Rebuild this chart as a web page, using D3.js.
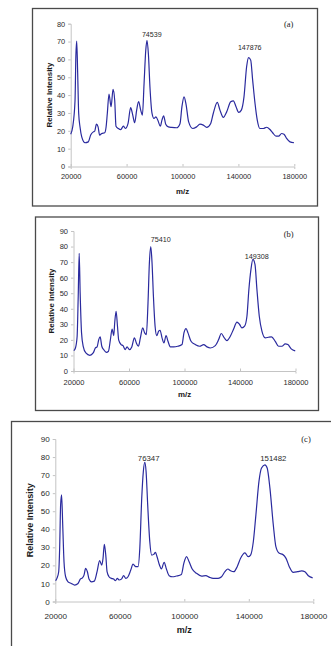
<!DOCTYPE html>
<html>
<head>
<meta charset="utf-8">
<script src="https://cdn.jsdelivr.net/npm/d3@7"></script>
<style>
  html, body { margin: 0; padding: 0; background: #fff; }
  svg { display: block; }
</style>
</head>
<body>
<svg id="chart" width="331" height="646"></svg>
<script>
// Spectra: [m/z, relative intensity]
const spectrumA = [
  [20000,18.1],[21400,22],[23100,37],[23700,62],[24300,70.3],[25000,52],[25700,30],[26700,22],[27900,16.6],
  [30250,13.3],[32600,13.8],[34300,17.6],[36200,19.4],[37200,19.8],[38400,23.7],[39600,22.2],[40700,17.6],
  [42200,18.5],[44300,18.9],[45300,22],[46200,29.7],[47400,40.6],[48900,33.5],[50300,43.2],[51500,37],
  [52400,22.6],[54100,21.3],[55800,20.7],[57700,22.6],[59100,21.3],[61000,24],[62900,33],[64400,28.8],
  [65800,24.5],[67200,31.6],[68600,36.3],[70100,31.6],[71300,28.8],[72500,46.5],[73700,65],[74600,70.7],
  [75600,63],[76700,44.7],[78200,29.7],[79600,26.9],[81000,27.8],[82500,25.6],[84100,22.6],[85300,26],
  [86500,28.4],[88000,23.7],[89900,22.2],[92300,21.9],[95800,21.7],[98200,24],[99600,33.5],[101100,39],
  [102500,35],[104400,25],[107300,21.3],[110100,22.2],[112500,23.7],[114900,23.2],[117300,21.9],[120100,24],
  [122000,29.7],[124900,35.9],[126800,31.6],[129200,27.5],[131600,30.6],[134500,36.3],[136400,36.8],
  [138300,33.5],[140200,30.3],[142100,31.6],[144000,39],[145900,56],[147300,61],[148800,59.6],[150200,48.4],
  [151900,35.3],[153500,26],[155400,21.3],[157800,21.3],[160200,22],[162600,20.7],[164500,18.9],[166900,17],
  [168800,17],[170900,18.5],[172600,18.1],[174500,15.7],[176900,13.8],[179800,13.3]
];

const spectrumB = [
  [20200,13.1],[21400,14.8],[22600,22],[23400,48],[24100,75.6],[24800,50],[25800,24.5],[27000,15.9],
  [28900,11.6],[31800,10.1],[34200,11.6],[35800,14.8],[37000,15.5],[38200,20.2],[39200,21.9],[40400,15.9],
  [41800,13.7],[43700,12],[45200,12.7],[46600,20.2],[47800,27],[49000,22.8],[49700,31],[50700,38.4],
  [51700,28.8],[52600,19.8],[54300,17],[55700,16.3],[57200,13.7],[58600,15.5],[60300,13.7],[62000,15.5],
  [63900,21.3],[65300,18],[66800,15.9],[68200,21.3],[69900,27.7],[71300,24.5],[72500,23.4],[73700,43.8],
  [74700,69.6],[75700,80],[76600,69.6],[77600,48],[78800,28.8],[80000,22.8],[81400,25.6],[82400,26.2],
  [83800,21.3],[85200,18],[86700,22.8],[88100,19.1],[89800,15.5],[92200,15.5],[95100,15.9],[98200,17],
  [99600,24.5],[101100,27.3],[102500,24.5],[104700,19.1],[107800,17],[110900,15.9],[113800,17],[116200,15.5],
  [118600,14.8],[122200,16.3],[124600,20.2],[126500,24.1],[128700,21.3],[130600,19.5],[133000,22.3],
  [135400,27],[137800,31.4],[139700,29.9],[141400,27.7],[143300,28.8],[145000,35.2],[146400,52.4],
  [147900,65.3],[149300,71.7],[150800,68.5],[152200,52.4],[153900,35.2],[155800,25.6],[158200,21.3],
  [160600,21.7],[162700,21.9],[165400,19.1],[167800,15.9],[170200,15.9],[172600,17.4],[174500,17],
  [176900,14.2],[179800,12.9]
];

const spectrumC = [
  [20200,11.5],[21000,12.8],[22100,16.5],[22700,29.4],[23300,53.5],[23900,59],[24600,42.4],[25400,22],
  [26400,13.7],[27900,10.9],[29900,10],[32000,9.1],[34100,10],[35500,12.4],[36800,13.1],[37800,14.6],
  [38800,18.3],[39900,16.5],[40900,12.4],[42400,10.9],[44200,11.3],[45900,16.5],[47500,22.6],[48800,20.2],
  [49600,23.9],[50400,31.7],[51300,25.7],[52100,16.5],[53300,13.7],[54800,12.8],[56200,12.4],[57300,11.5],
  [58500,12.8],[59500,11.9],[61000,12.4],[62400,14.3],[63700,12.8],[65100,13.7],[66800,17.4],[68200,20.7],
  [69900,19.3],[71300,19.3],[72400,29.4],[73600,57.2],[74600,72],[75500,77],[76300,72],[77300,53.5],
  [78600,33.1],[79800,25.7],[81100,26.1],[82100,27.2],[83100,24.8],[84600,20.2],[85800,18],[87500,21.7],
  [88900,18],[90600,14.3],[92700,13.7],[95100,14.1],[98200,15],[99700,21.1],[101400,24.8],[103000,22],
  [104900,18],[107600,15.6],[110700,14.1],[113400,14.3],[115400,13.5],[117900,12.8],[121000,12.8],
  [123100,13.7],[125200,16.5],[127000,18],[128700,17],[130700,16.5],[132800,19.3],[134900,23.9],
  [137600,26.9],[139600,24.8],[141100,25.7],[142800,33.1],[144400,48],[146300,66.5],[147900,73.9],
  [150000,75.7],[151400,73.9],[153100,62.8],[155200,42.4],[156800,30.4],[158900,26.7],[161000,26.1],
  [163100,23.9],[165100,19.3],[167600,16.1],[170300,16.5],[172800,17],[174800,16.5],[176900,14.3],
  [179600,13.1]
];

// peak annotations: text and anchor in data units
const peaksA = [{ text: "74539", mz: 78000, i: 74.2 }, { text: "147876", mz: 148100, i: 66.4 }];
const peaksB = [{ text: "75410", mz: 82850, i: 84.4 }, { text: "149308", mz: 152000, i: 73.9 }];
const peaksC = [{ text: "76347", mz: 77900, i: 79.6 }, { text: "151482", mz: 155200, i: 79.6 }];

const xTicks = [20000, 60000, 100000, 140000, 180000];
const yTicksA = [0, 10, 20, 30, 40, 50, 60, 70, 80];
const yTicksBC = [0, 10, 20, 30, 40, 50, 60, 70, 80, 90];

// Layout of each panel (pixels)
const panels = [
  { data: spectrumA, peaks: peaksA, yTicks: yTicksA, yMax: 80, tag: "(a)", tagPos: [288.7, 24],
    box: [32.5, 8.5, 285, 197.5], x0: 70.7, x1: 294.3, yTop: 23.7, yBot: 166.5,
    font: 7.4, titleFont: 7.9, yLabelX: 49, xLabelY: 191.7, xTickGap: 11 },
  { data: spectrumB, peaks: peaksB, yTicks: yTicksBC, yMax: 90, tag: "(b)", tagPos: [288.7, 234],
    box: [35.5, 217, 283, 193.5], x0: 73.5, x1: 295.5, yTop: 231, yBot: 371,
    font: 7.5, titleFont: 7.9, yLabelX: 51.7, xLabelY: 394.3, xTickGap: 12 },
  { data: spectrumC, peaks: peaksC, yTicks: yTicksBC, yMax: 90, tag: "(c)", tagPos: [306, 439],
    box: [11.5, 421.5, 330, 230], x0: 55.3, x1: 313.3, yTop: 439, yBot: 601.5,
    font: 8.1, titleFont: 9, yLabelX: 30, xLabelY: 630, xTickGap: 15 }
];

const svg = d3.select("#chart");

panels.forEach(p => {
  const g = svg.append("g");

  // outer frame
  g.append("rect")
    .attr("x", p.box[0]).attr("y", p.box[1])
    .attr("width", p.box[2]).attr("height", p.box[3])
    .attr("fill", "none")
    .attr("stroke", "#4a4a4a")
    .attr("stroke-width", 1.3);

  const x = d3.scaleLinear().domain([20000, 180000]).range([p.x0, p.x1]);
  const y = d3.scaleLinear().domain([0, p.yMax]).range([p.yBot, p.yTop]);

  // y axis
  const yAxis = g.append("g")
    .attr("transform", `translate(${p.x0},0)`)
    .call(d3.axisLeft(y).tickValues(p.yTicks).tickSize(2.5).tickPadding(3));
  // x axis
  const xAxis = g.append("g")
    .attr("transform", `translate(0,${p.yBot})`)
    .call(d3.axisBottom(x).tickValues(xTicks).tickSize(2.5).tickPadding(p.xTickGap - 6)
      .tickFormat(d3.format("d")));

  [yAxis, xAxis].forEach(a => {
    a.select(".domain").attr("stroke", "#c4c4c4").attr("stroke-width", 1);
    a.selectAll(".tick line").attr("stroke", "#c4c4c4");
    a.selectAll(".tick text")
      .attr("fill", "#2a2a2a")
      .attr("font-family", "'Liberation Sans', Arial, sans-serif")
      .attr("font-size", p.font);
  });
  // x tick marks straddle the axis
  xAxis.selectAll(".tick line").attr("y1", -2.5).attr("y2", 0);

  // axis titles
  g.append("text")
    .attr("transform", `translate(${p.yLabelX},${(p.yTop + p.yBot) / 2}) rotate(-90)`)
    .attr("text-anchor", "middle")
    .attr("dy", "0.35em")
    .attr("font-family", "'Liberation Sans', Arial, sans-serif")
    .attr("font-weight", "bold")
    .attr("font-size", p.titleFont)
    .attr("fill", "#1a1a1a")
    .text("Relative Intensity");

  g.append("text")
    .attr("x", (p.x0 + p.x1) / 2)
    .attr("y", p.xLabelY)
    .attr("text-anchor", "middle")
    .attr("dy", "0.35em")
    .attr("font-family", "'Liberation Sans', Arial, sans-serif")
    .attr("font-weight", "bold")
    .attr("font-size", p.titleFont)
    .attr("fill", "#1a1a1a")
    .text("m/z");

  // spectrum
  const line = d3.line()
    .x(d => x(d[0]))
    .y(d => y(d[1]))
    .curve(d3.curveMonotoneX);

  g.append("path")
    .datum(p.data)
    .attr("fill", "none")
    .attr("stroke", "#2a2a9e")
    .attr("stroke-width", 1.2)
    .attr("stroke-linejoin", "round")
    .attr("d", line);

  // peak labels
  g.selectAll(".peak")
    .data(p.peaks)
    .join("text")
      .attr("class", "peak")
      .attr("x", d => x(d.mz))
      .attr("y", d => y(d.i))
      .attr("dy", "0.35em")
      .attr("text-anchor", "middle")
      .attr("font-family", "'Liberation Sans', Arial, sans-serif")
      .attr("font-size", p.font - 0.3)
      .attr("fill", "#2a2a2a")
      .text(d => d.text);

  // panel tag
  g.append("text")
    .attr("x", p.tagPos[0])
    .attr("y", p.tagPos[1])
    .attr("dy", "0.35em")
    .attr("text-anchor", "middle")
    .attr("font-family", "'Liberation Serif', 'Times New Roman', serif")
    .attr("font-size", 8.5)
    .attr("fill", "#1a1a1a")
    .text(p.tag);
});
</script>
</body>
</html>
